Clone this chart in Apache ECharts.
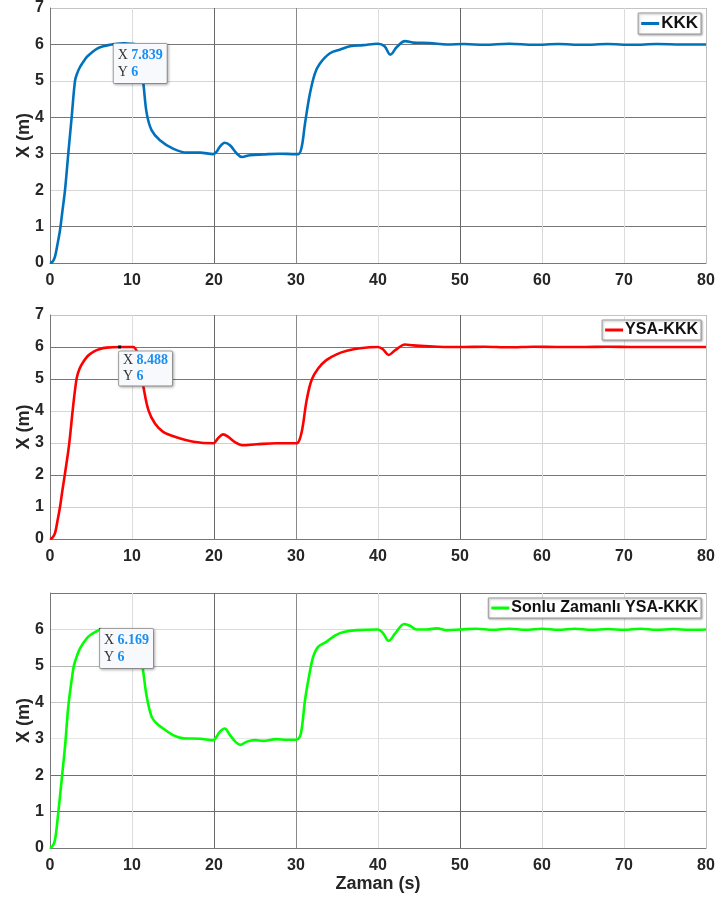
<!DOCTYPE html>
<html><head><meta charset="utf-8">
<script src="https://cdn.jsdelivr.net/npm/echarts@6/dist/echarts.min.js"></script>
<style>html,body{margin:0;padding:0;background:#fff}#c{width:715px;height:905px}</style>
</head><body><div id="c"></div>
<script>
const seriesNames = ['KKK', 'YSA-KKK', 'Sonlu Zamanlı YSA-KKK'];
const seriesColors = ['#0072BD', '#FF0000', '#00FF00'];
const xTitle = 'Zaman (s)';
const yTitle = 'X (m)';

const kkkT = [0, 0.3, 0.6, 0.9, 1.22, 1.5, 1.83, 2.23, 2.64, 3.05, 3.3, 3.66, 4.0, 4.47, 5.0, 5.7, 6.5, 7.3, 8.2, 9.0, 9.8, 10.5, 10.8, 11.1, 11.4, 11.8, 12.4, 13.4, 15.0, 16.7, 18.3, 19.9, 20.3, 20.7, 21.3, 21.95, 22.8, 23.4, 24.4, 26.0, 28.0, 29.9, 30.3, 30.7, 31.1, 31.7, 32.3, 32.9, 34.1, 35.4, 36.6, 38.2, 40.0, 40.8, 41.5, 42.3, 43.3, 44.3, 46.3, 48.4, 50.5, 53, 56, 59, 62, 65, 68, 71, 74, 77, 80];
const kkkX = [0, 0.03, 0.17, 0.5, 0.9, 1.4, 2.0, 3.0, 4.0, 5.0, 5.2, 5.38, 5.5, 5.65, 5.76, 5.88, 5.95, 5.99, 6.02, 6.03, 6.02, 6.0, 5.9, 5.4, 4.9, 4.1, 3.64, 3.37, 3.14, 3.03, 3.03, 2.99, 3.05, 3.19, 3.3, 3.23, 3.0, 2.91, 2.96, 2.98, 3.0, 2.99, 2.99, 3.19, 3.83, 4.65, 5.2, 5.47, 5.75, 5.86, 5.95, 5.98, 6.02, 5.95, 5.72, 5.93, 6.09, 6.05, 6.04, 6.0, 6.01, 5.99, 6.02, 5.99, 6.01, 5.99, 6.01, 5.99, 6.01, 6.0, 6.0];

const ysaT = [0, 0.3, 0.61, 0.9, 1.22, 1.5, 1.83, 2.35, 2.77, 3.25, 3.6, 4.07, 4.6, 5.28, 6.0, 6.9, 8.5, 10.1, 10.6, 11.0, 11.4, 12.0, 12.8, 13.8, 15.4, 17.5, 19.9, 20.5, 21.1, 21.7, 22.6, 23.4, 25.2, 27.6, 29.9, 30.2, 30.7, 31.3, 31.9, 32.7, 33.7, 34.95, 36.2, 37.8, 40.0, 40.6, 41.3, 42.1, 43.3, 44.3, 46.3, 48.4, 50.5, 53, 56, 59, 62, 65, 68, 71, 74, 77, 80];
const ysaX = [0, 0.04, 0.18, 0.55, 1.0, 1.5, 2.05, 2.99, 4.03, 5.02, 5.32, 5.54, 5.72, 5.85, 5.93, 5.98, 6.0, 6.0, 5.85, 5.35, 4.74, 4.03, 3.61, 3.35, 3.18, 3.04, 2.99, 3.15, 3.27, 3.2, 3.02, 2.93, 2.96, 2.99, 2.99, 3.0, 3.35, 4.34, 4.97, 5.33, 5.59, 5.77, 5.88, 5.96, 6.0, 5.93, 5.75, 5.9, 6.08, 6.05, 6.02, 6.0, 6.0, 6.01, 5.99, 6.01, 6.0, 6.0, 6.01, 6.0, 6.0, 6.0, 6.0];

const sonT = [0, 0.3, 0.61, 1.0, 1.42, 1.83, 2.23, 2.64, 2.93, 3.3, 3.66, 4.47, 5.0, 5.7, 6.17, 7.7, 9.0, 10.2, 10.6, 11.0, 11.4, 11.8, 12.4, 13.0, 13.8, 15.0, 16.3, 18.3, 19.9, 20.3, 20.7, 21.3, 21.95, 22.6, 23.2, 24.0, 25.0, 26.0, 27.6, 28.9, 30.1, 30.6, 31.1, 31.7, 32.1, 32.7, 33.7, 34.8, 35.8, 37.4, 40.0, 40.6, 41.3, 42.1, 43.2, 43.9, 44.7, 45.9, 47.2, 48.4, 50.1, 52, 54, 56, 58, 60, 62, 64, 66, 68, 70, 72, 74, 76, 78, 80];
const sonX = [0, 0.05, 0.22, 0.95, 1.87, 2.78, 3.88, 4.61, 5.02, 5.28, 5.48, 5.75, 5.86, 5.95, 6.0, 6.0, 6.0, 5.98, 5.9, 5.5, 4.79, 4.15, 3.6, 3.42, 3.28, 3.1, 3.01, 3.0, 2.96, 3.05, 3.19, 3.28, 3.1, 2.92, 2.83, 2.92, 2.96, 2.94, 2.99, 2.97, 2.98, 3.15, 4.06, 4.85, 5.25, 5.52, 5.66, 5.84, 5.93, 5.98, 6.0, 5.9, 5.69, 5.89, 6.15, 6.1, 6.0, 6.0, 6.03, 5.98, 6.0, 6.02, 5.99, 6.02, 5.99, 6.02, 5.99, 6.02, 5.99, 6.01, 5.99, 6.02, 5.99, 6.01, 5.99, 6.0];

const tipX = [7.839, 8.488, 6.169];
const tipY = [6, 6, 6];

const xTicks = [0, 10, 20, 30, 40, 50, 60, 70, 80];
const yTicks = [0, 1, 2, 3, 4, 5, 6, 7];

const times = [kkkT, ysaT, sonT];
const values = [kkkX, ysaX, sonX];

const grids = [
  {left: 50, top: 8, width: 656, height: 255, outerBoundsMode: 'none', containLabel: false},
  {left: 50, top: 315, width: 656, height: 224, outerBoundsMode: 'none', containLabel: false},
  {left: 50, top: 593, width: 656, height: 255, outerBoundsMode: 'none', containLabel: false}
];
const xLineColors = ['#777', '#dcdcdc', '#6a6a6a', '#8a8a8a', '#dcdcdc', '#666', '#d8d8d8', '#dcdcdc', '#bdbdbd'];
const yLineColors = [
  ['#777', '#777', '#d6d6d6', '#777', '#777', '#d6d6d6', '#777', '#c4c4c4'],
  ['#666', '#cfcfcf', '#777', '#cfcfcf', '#d6d6d6', '#777', '#777', '#c4c4c4'],
  ['#777', '#6f6f6f', '#6f6f6f', '#e6e6e6', '#c8c8c8', '#b5b5b5', '#d9d9d9', '#777']
];
const legendTops = [13, 320, 598];
const legendSizes = [17, 16, 16];
const tipOffsets = [[1, 1], [1, 6], [1, 1]];
const tipLine = [17, 16, 17];
const tipPad = [[3, 4, 2, 4], [1, 4, 1, 4], [3, 4, 2, 4]];

const font = 'Liberation Sans, Arial, Helvetica, sans-serif';

const option = {
  backgroundColor: '#fff',
  animation: false,
  grid: grids,
  xAxis: grids.map((g, i) => ({
    type: 'value', gridIndex: i, min: xTicks[0], max: xTicks[xTicks.length - 1], interval: xTicks[1] - xTicks[0],
    axisLine: {show: true, onZero: false, lineStyle: {color: '#777', width: 1}},
    axisTick: {show: false},
    axisLabel: {fontFamily: font, fontWeight: 'bold', fontSize: 16, color: '#262626', margin: 10},
    splitLine: {show: true, lineStyle: {color: xLineColors, width: 1}},
    name: i === 2 ? xTitle : '', nameLocation: 'middle', nameGap: 27, nameMoveOverlap: false,
    nameTextStyle: {fontFamily: font, fontWeight: 'bold', fontSize: 18, color: '#262626'}
  })),
  yAxis: grids.map((g, i) => ({
    type: 'value', gridIndex: i, min: yTicks[0], max: yTicks[yTicks.length - 1], interval: yTicks[1] - yTicks[0],
    axisLine: {show: true, onZero: false, lineStyle: {color: '#777', width: 1}},
    axisTick: {show: false},
    axisLabel: {fontFamily: font, fontWeight: 'bold', fontSize: 16, color: '#262626', margin: 6, showMaxLabel: i !== 2},
    splitLine: {show: true, lineStyle: {color: yLineColors[i], width: 1}},
    name: yTitle, nameLocation: 'middle', nameGap: 17, nameMoveOverlap: false,
    nameTextStyle: {fontFamily: font, fontWeight: 'bold', fontSize: 18, color: '#262626'}
  })),
  legend: seriesNames.map((n, i) => ({
    data: [n], right: 14, top: legendTops[i], orient: 'horizontal',
    selectedMode: false, icon: 'rect', itemWidth: 18, itemHeight: 3, itemGap: 0,
    backgroundColor: '#fff', borderColor: '#9a9a9a', borderWidth: 1, padding: [2, 3, 2, 3],
    shadowBlur: 2, shadowColor: 'rgba(0,0,0,0.3)', shadowOffsetX: 1, shadowOffsetY: 1,
    textStyle: {fontFamily: font, fontWeight: 'bold', fontSize: legendSizes[i], color: '#111', padding: [0, 0, 0, -3]}
  })),
  series: seriesNames.map((n, i) => ({
    name: n, type: 'line', xAxisIndex: i, yAxisIndex: i,
    data: times[i].map((t, k) => [t, values[i][k]]),
    symbol: 'none', smooth: 0.35,
    lineStyle: {color: seriesColors[i], width: 2.6},
    itemStyle: {color: seriesColors[i]},
    markPoint: {
      silent: true, symbol: 'rect', symbolSize: 3,
      itemStyle: {color: '#111'},
      data: [{coord: [tipX[i], tipY[i]]}],
      label: {
        show: true, position: tipOffsets[i],
        formatter: '{k|X} {v|' + tipX[i] + '}\n{k|Y} {v|' + tipY[i] + '}',
        backgroundColor: '#f8f9fc', borderColor: '#a5a5a5', borderWidth: 1, borderRadius: 1,
        padding: tipPad[i],
        shadowBlur: 3, shadowColor: 'rgba(0,0,0,0.25)', shadowOffsetX: 1, shadowOffsetY: 1,
        rich: {
          k: {fontFamily: 'Liberation Serif, Times New Roman, serif', fontSize: 14, color: '#333', lineHeight: tipLine[i]},
          v: {fontFamily: 'Liberation Serif, Times New Roman, serif', fontSize: 14, fontWeight: 'bold', color: '#1b8ff0', lineHeight: tipLine[i]}
        }
      }
    }
  }))
};

const chart = echarts.init(document.getElementById('c'), null, {renderer: 'canvas'});
chart.setOption(option);
</script>
</body></html>
